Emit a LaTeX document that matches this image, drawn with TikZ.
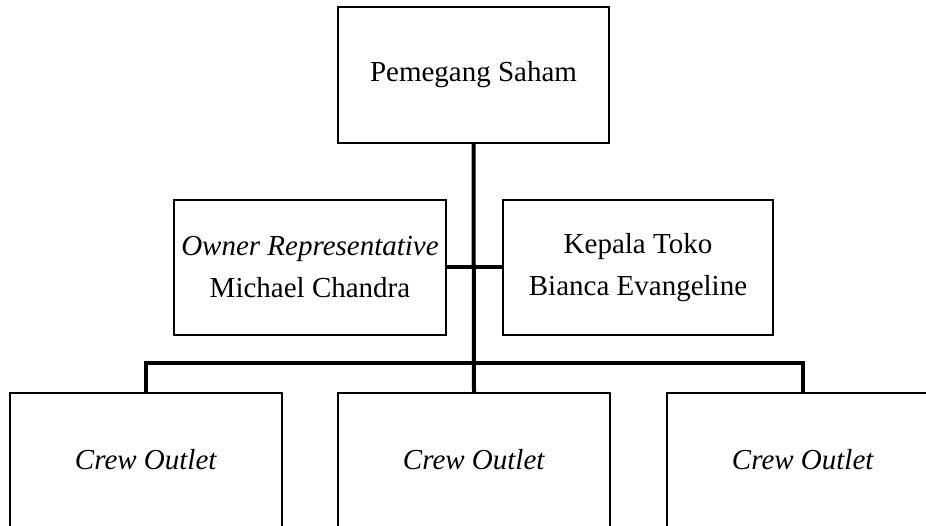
\documentclass[tikz,border=0pt]{standalone}
\usepackage{fontspec}
\setmainfont{Liberation Serif}
\begin{document}
\begin{tikzpicture}[x=1pt,y=-1pt,
  box/.style={draw, line width=1.5pt, minimum width=272pt, minimum height=135pt,
    inner sep=0pt, align=center, font=\fontsize{29}{42}\selectfont},
  conn/.style={line width=4pt}]
\useasboundingbox (0,0) rectangle (926,526);
\clip (0,0) rectangle (926,526);
\node[box, minimum width=271pt, minimum height=136pt] (top) at (473.5,75) {\raisebox{-3pt}{Pemegang Saham}};
\node[box] (ml) at (310,267.5) {\textit{Owner Representative}\\Michael Chandra};
\node[box, minimum width=270pt] (mr) at (638,267.5) {Kepala Toko\\Bianca Evangeline};
\node[box, minimum height=134pt] (b1) at (146,460) {\textit{Crew Outlet}};
\node[box, minimum height=134pt] (b2) at (474,460) {\textit{Crew Outlet}};
\node[box, minimum height=134pt] (b3) at (803,460) {\textit{Crew Outlet}};
\coordinate (bus) at (474,363);
\draw[conn] (top.south) -- (b2.north);
\draw[conn] (b1.north) |- (bus) -| (b3.north);
\draw[conn] (ml.east) -- (mr.west);
\end{tikzpicture}
\end{document}
